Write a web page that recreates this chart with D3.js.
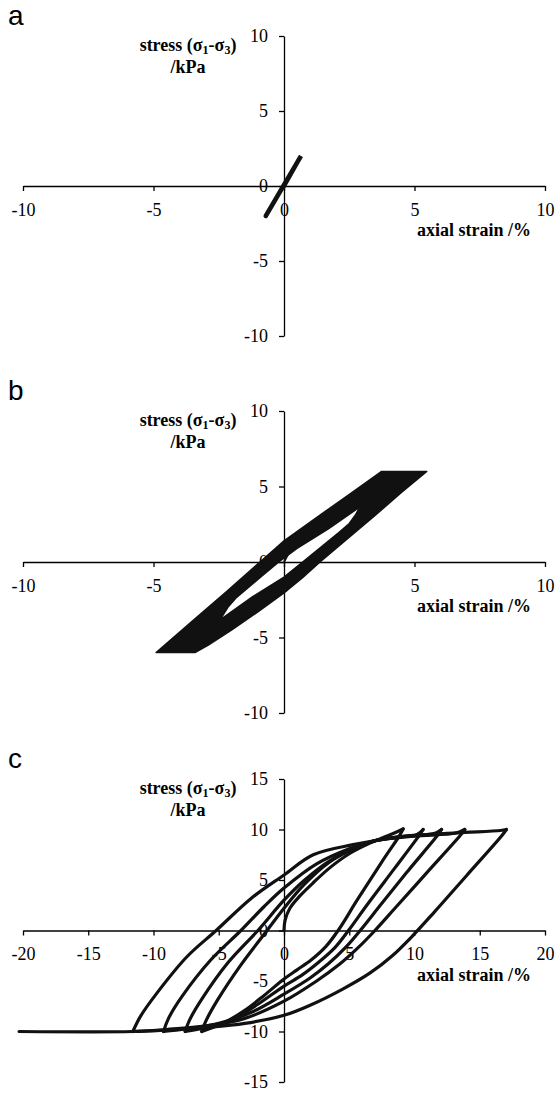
<!DOCTYPE html>
<html>
<head>
<meta charset="utf-8">
<script src="https://cdn.jsdelivr.net/npm/d3@7"></script>
<style>
  body { margin: 0; background: #fff; }
  svg { display: block; }
</style>
</head>
<body>
<div id="chart"></div>
<script>
// ---- data (strain %, stress kPa) ----

// panel a: small cycles between +/- 2 kPa
var cycleA = [[0, 0], [0.65, 2], [-0.7, -2], [0.65, 2], [-0.7, -2]];

// panel b: envelope of the growing +/- 6 kPa cycles, and the open hole inside
var outerB = [[3.74, 6], [5.47, 6], [4.5, 4.6], [3.5, 3.1], [2.4, 1.5], [1.38, 0], [0.7, -1.05], [0, -2.05],
  [-1, -3.3], [-2, -4.5], [-2.9, -5.5], [-3.41, -6], [-4.9, -6], [-3.5, -3.9], [-2.2, -1.95],
  [-0.92, 0], [0, 1.4], [1.5, 3.25], [2.6, 4.6], [3.74, 6]];
var holeB = [[-2.45, -3.83], [-2.15, -3.0], [-1.85, -2.4], [-0.9, -1.0], [-0.2, 0], [0.5, 0.9],
  [1.7, 2.2], [2.91, 3.65], [2.75, 3.15], [2.5, 2.55], [2.1, 1.95], [0.75, 0.05], [0, -1.0],
  [-1.2, -2.3], [-2.45, -3.83]];
var firstLoadB = [[0, 0], [0.15, 0.5], [0.35, 1.0]];

// panel c: initial loading, then unload / reload branches
var initialC = [[0, 0], [0.08, 1.0], [0.45, 2.2], [1.2, 3.4], [2.3, 4.8], [3.5, 6.2], [5, 7.6],
  [6.5, 8.6], [8, 9.4], [8.8, 9.85], [9.13, 10.05]];
var unloadC1 = [[9.13, 10.05], [8.85, 9.4], [7.5, 6.8], [5.6, 3.0], [4.2, 0.1], [3.2, -1.6], [2.1, -2.9],
  [1.0, -3.9], [0, -4.8], [-1.5, -6.4], [-3, -7.9], [-4.7, -9.2], [-6.3, -10]];
var reloadC1 = [[-6.3, -10], [-6.0, -9.0], [-5.1, -6.9], [-3.3, -3.4], [-1.3, 0], [0, 2.2], [1.5, 4.5],
  [3.5, 6.8], [5.5, 8.2], [7, 8.9], [9, 9.3], [10.2, 9.5], [10.66, 10.0]];
var unloadC2 = [[10.66, 10.0], [10.35, 9.4], [8.5, 6.2], [6.4, 2.6], [5.0, 0.1], [3.9, -1.7], [2.7, -3.1],
  [1.4, -4.4], [0, -5.5], [-2, -7.3], [-4, -8.8], [-6, -9.6], [-7.57, -10]];
var reloadC2 = [[-7.57, -10], [-7.25, -8.9], [-6.3, -6.8], [-4.3, -3.2], [-2.0, 0], [0, 3.0], [1.5, 4.9],
  [3.5, 6.9], [5.5, 8.2], [7, 8.9], [9, 9.3], [11.5, 9.6], [12.07, 10.0]];
var unloadC3 = [[12.07, 10.0], [11.75, 9.4], [9.5, 5.9], [7.5, 2.7], [5.9, 0.1], [4.7, -1.7], [3.4, -3.3],
  [2, -4.7], [0, -6.3], [-2.5, -8.1], [-5, -9.2], [-7.5, -9.75], [-9.23, -10]];
var reloadC3 = [[-9.23, -10], [-8.85, -8.7], [-7.8, -6.5], [-5.6, -2.9], [-3.3, 0], [-1.5, 2.4], [0, 4.2],
  [2.5, 6.6], [5, 8.1], [7, 8.9], [10, 9.35], [13.2, 9.65], [13.85, 10.0]];
var unloadC4 = [[13.85, 10.0], [13.5, 9.4], [11, 5.8], [8.5, 2.2], [6.9, -0.1], [5.6, -1.8], [4.2, -3.4],
  [2.5, -5.0], [0, -7.0], [-3, -8.7], [-6, -9.45], [-9, -9.8], [-11.58, -10]];
var reloadC4 = [[-11.58, -10], [-11.0, -8.5], [-9.74, -6.2], [-7.44, -2.6], [-5.2, 0], [-2.5, 3.2],
  [0, 5.5], [2.24, 7.5], [5.3, 8.5], [9.1, 9.3], [13.2, 9.67], [16.6, 9.9], [17.04, 10.0]];
var unloadC5 = [[17.04, 10.0], [16.7, 9.4], [14, 5.45], [11.5, 1.8], [9.8, -0.6], [8.3, -2.5], [6.6, -4.2],
  [4.5, -5.8], [2, -7.4], [0, -8.4], [-3, -9.2], [-6, -9.6], [-9, -9.85], [-11.6, -10], [-20.3, -10]];

var ticksAB = [-10, -5, 0, 5, 10];
var xTicksC = [-20, -15, -10, -5, 0, 5, 10, 15, 20];
var yTicksC = [-15, -10, -5, 0, 5, 10, 15];

// ---- drawing ----
var width = 557, height = 1093;
var serif = "'Liberation Serif', 'Times New Roman', Times, serif";

var svg = d3.select("#chart").append("svg")
  .attr("width", width)
  .attr("height", height);

function panel(opt) {
  var x = d3.scaleLinear().domain(opt.xDomain).range([23, 545]);
  var y = d3.scaleLinear().domain(opt.yDomain).range([opt.bottom, opt.top]);
  var g = svg.append("g");

  var xAxis = g.append("g")
    .attr("transform", "translate(0," + y(0) + ")")
    .call(d3.axisBottom(x).tickValues(opt.xTicks).tickSize(5).tickSizeOuter(0).tickPadding(12)
      .tickFormat(function(d) { return String(d); }));
  var yAxis = g.append("g")
    .attr("transform", "translate(" + x(0) + ",0)")
    .call(d3.axisLeft(y).tickValues(opt.yTicks).tickSize(5).tickSizeOuter(0).tickPadding(11)
      .tickFormat(function(d) { return String(d); }));

  [xAxis, yAxis].forEach(function(a) {
    a.attr("font-family", serif).attr("font-size", 18);
    a.selectAll("path, line").attr("stroke", "#000").attr("stroke-width", 1.3);
    a.selectAll("text")
      .attr("fill", "#000")
      .style("font-family", serif)
      .style("font-size", "18px");
  });

  // panel letter
  g.append("text")
    .attr("x", 8).attr("y", opt.top - 11)
    .style("font-family", "'Liberation Sans', Arial, sans-serif")
    .style("font-size", "28px")
    .text(opt.letter);

  // y axis title
  var t = g.append("text")
    .attr("x", 188).attr("y", opt.top + 15)
    .attr("text-anchor", "middle")
    .style("font-family", serif)
    .style("font-weight", "bold")
    .style("font-size", "18px");
  t.append("tspan").text("stress (σ");
  t.append("tspan").attr("dy", 3).style("font-size", "12px").text("1");
  t.append("tspan").attr("dy", -3).text("-σ");
  t.append("tspan").attr("dy", 3).style("font-size", "12px").text("3");
  t.append("tspan").attr("dy", -3).text(")");
  g.append("text")
    .attr("x", 188).attr("y", opt.top + 37)
    .attr("text-anchor", "middle")
    .style("font-family", serif)
    .style("font-weight", "bold")
    .style("font-size", "18px")
    .text("/kPa");

  // x axis title
  g.append("text")
    .attr("x", 531).attr("y", y(0) + 50)
    .attr("text-anchor", "end")
    .style("font-family", serif)
    .style("font-weight", "bold")
    .style("font-size", "18px")
    .text("axial strain /%");

  return { g: g, x: x, y: y };
}

// panel a
var pa = panel({ letter: "a", xDomain: [-10, 10], yDomain: [-10, 10], top: 36, bottom: 336,
  xTicks: ticksAB, yTicks: ticksAB });
var lineA = d3.line().x(function(d) { return pa.x(d[0]); }).y(function(d) { return pa.y(d[1]); });
pa.g.append("path")
  .attr("d", lineA(cycleA))
  .attr("fill", "none")
  .attr("stroke", "#111")
  .attr("stroke-width", 4.5)
  .attr("stroke-linecap", "round");

// panel b
var pb = panel({ letter: "b", xDomain: [-10, 10], yDomain: [-10, 10], top: 411, bottom: 713,
  xTicks: ticksAB, yTicks: ticksAB });
var lineB = d3.line().x(function(d) { return pb.x(d[0]); }).y(function(d) { return pb.y(d[1]); });
pb.g.append("path")
  .attr("d", lineB(outerB) + "Z" + lineB(holeB) + "Z")
  .attr("fill", "#111")
  .attr("fill-rule", "evenodd")
  .attr("stroke", "#111")
  .attr("stroke-width", 1.5)
  .attr("stroke-linejoin", "round");
pb.g.append("path")
  .attr("d", lineB(firstLoadB))
  .attr("fill", "none")
  .attr("stroke", "#111")
  .attr("stroke-width", 2);

// panel c
var pc = panel({ letter: "c", xDomain: [-20, 20], yDomain: [-15, 15], top: 779, bottom: 1082,
  xTicks: xTicksC, yTicks: yTicksC });
var lineC = d3.line().curve(d3.curveCatmullRom.alpha(0.5))
  .x(function(d) { return pc.x(d[0]); }).y(function(d) { return pc.y(d[1]); });
var branchesC = [initialC, unloadC1, reloadC1, unloadC2, reloadC2, unloadC3, reloadC3, unloadC4, reloadC4, unloadC5];
pc.g.selectAll(".branch")
  .data(branchesC)
  .enter()
  .append("path")
  .attr("class", "branch")
  .attr("d", lineC)
  .attr("fill", "none")
  .attr("stroke", "#111")
  .attr("stroke-width", 3.2)
  .attr("stroke-linejoin", "round")
  .attr("stroke-linecap", "round");
</script>
</body>
</html>
